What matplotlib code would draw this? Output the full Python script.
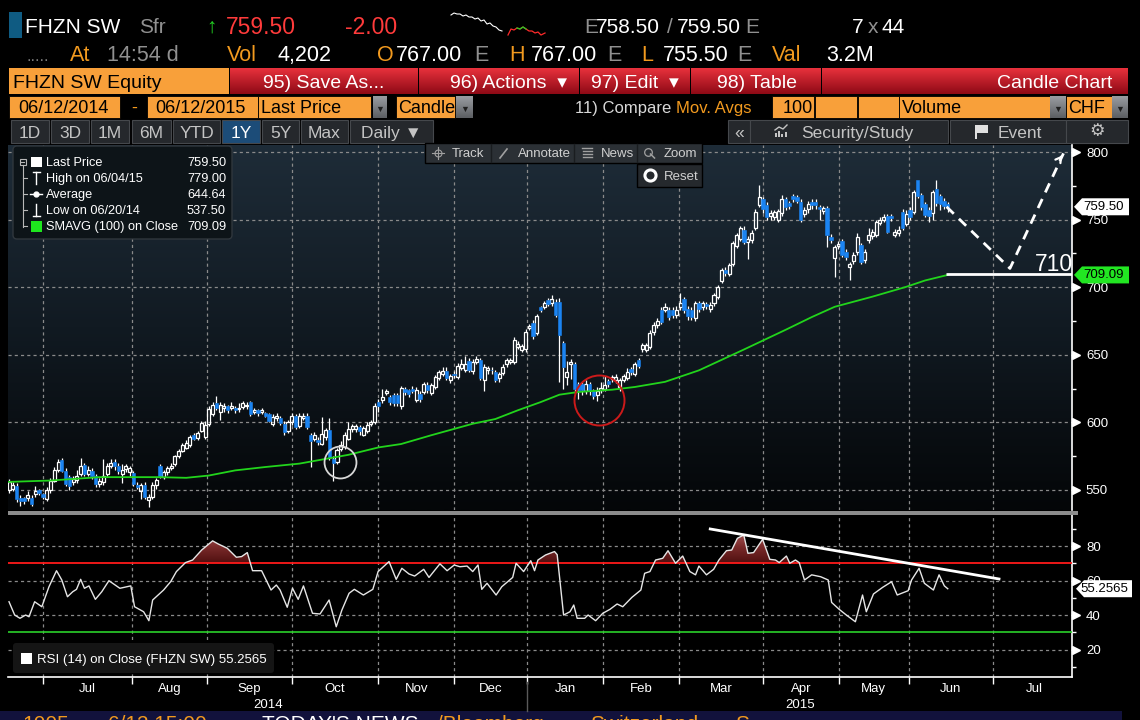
import numpy as np
import matplotlib
matplotlib.use("Agg")
import matplotlib.pyplot as plt
from matplotlib.patches import Rectangle, FancyBboxPatch, Polygon, PathPatch
from matplotlib.path import Path
from matplotlib.colors import LinearSegmentedColormap
import matplotlib.transforms as mtrans

SANS = ["Liberation Sans", "DejaVu Sans"]
plt.rcParams["font.family"] = SANS

# ------------------------------------------------------------------ data
opens = [550,551,553,544,544,544,544,547,550,547,
         543,550,557,565,572,564,559.5,556,557.5,562,
         568.5,562,564,560.5,554.5,556,562,568,571,568,
         562,565.5,563,562.5,554,549,554,542.5,544.5,553.5,
         567.5,559.5,563,566.5,569.5,575.5,579,581,583,590.5,
         588.5,594,589,598.5,606,614.5,608,610.5,612,611,
         610.5,610,611.5,612,615,607.5,609,607.5,607,606,
         599,603,603.5,599,594,600,605,597.5,603.5,605,
         590.5,588,587,584,589,594.5,573,570.5,580.5,581.5,
         588,595,595,596.5,591,594,599,600.5,615,616.5,
         621.5,619,620,620,612,624.5,624,625,616.5,621,
         622.5,628,622,626,632.5,636,638,631,635.5,633.5,
         640.5,639,645.5,638,644.5,646,631.5,638.5,639,637.5,
         632.5,636.5,643.5,644.5,644.5,656,653.5,654.5,670,673.5,
         666,685,685.5,690.5,688,689,689,658.5,633.5,643.5,
         643,628.5,628.5,623.5,628.5,623,620,624,625,630.5,
         632,631.5,626,631.5,632.5,639.5,635.5,646,654.5,653.5,
         655.5,667,672,683.5,683.5,683,683,679.5,685,691,
         684,683.5,677,688,685.5,687.5,684,688,692.5,704.5,
         713,710,717.5,730.5,736,742.5,733.5,735,744,761,
         765,761,752.5,752,750,755,765.5,762,767.5,766.5,
         763,754.5,757.5,763,763,759,756.5,758.5,737.5,721.5,
         730.5,734.5,726,715,719.5,726,731,720,735,738,
         738.5,747.5,749.5,752.5,752.5,738.5,740,756,746.5,757,
         756,779,768,761.5,757,755,772.5,767.5,764,761.5]
closes = [556,554,543,542,542,546,540,549,548,545,
          550,557,565,570.5,564,554.5,553,558,560,568,
          562,565,560.5,554.5,557,560.5,568,570,567.5,564,
          565,567.5,566,554.5,552.5,553.5,544.5,544.5,554,557.5,
          560.5,563,566.5,568,575,579,583,585,589,588,
          592,599.5,598,610,613,611,613,612,609,612,
          609,611,614.5,613,606.5,609,607,609,605,601,
          604,605,599.5,593,600,605,596.5,605,605,596.5,
          586.5,591,585.5,591.5,594.5,574,570,579.5,583,591,
          595,597,597,593.5,595.5,598,600,612.5,612.5,619,
          623.5,615,614,614,625.5,622.5,621,623.5,624,617,
          628.5,624,627.5,633.5,637.5,638,633,634,635,642,
          643,643,639,644.5,647,633,641,640,638.5,631.5,
          635.5,641,646,646.5,661,658,656.5,667,671,664,
          678.5,683.5,688,687.5,691,679.5,664.5,641,637.5,645,
          625,624,624,628.5,623.5,619.5,623,625.5,627.5,628.5,
          633.5,633.5,631,634,637.5,637.5,643,642,657,657,
          666,672,675,674.5,685.5,678,679.5,683,688.5,683,
          678.5,678,688,684,688,686,686.5,694,700.5,712.5,
          710.5,716.5,732.5,738.5,743.5,733.5,736,740,756,766.5,
          757.5,752,755,755.5,756.5,765.5,759.5,760,765.5,764,
          750,757,761.5,761,761,757.5,758.5,738.5,735,729.5,
          732,723.5,722,717,723.5,737.5,719,726,738.5,741,
          748.5,749.5,752,741,751.5,741,742.5,743.5,754.5,752,
          770.5,767.5,759,753.5,752.5,770.5,762,761.5,760,759.5]
highs = [558,556,555,546,545,549,546,553,551,548,
         552,559,567,573,574,566,561,560,565,574,
         570,568,566,562,559,573,570,573,573,570,
         569,569,568,564,556,555,556,547,556,559,
         569,565,568,570,576,580,585,587,591,592,
         594,601,601,612,615,619.5,615,614,613,615,
         612,614,616,615,616,611,610,611,608,607,
         606,607,605,601,602,607,606,607,607,607,
         592,593,589,604,596,603,575,581,586,593,
         600,599,599,598,597,600,602,614,617,625,
         625,620,622,622,627,626,625,627,626,623,
         630,630,629,635,639,641,641,636,638,644,
         647,649,648,647,649,648,643,642,641,639,
         637,643,648,648,663,660,658,669,673,676,
         680,686,690,692,694,691,692,660,645.5,647,
         645,630,630,631,630,625,626,630,634,632,
         635,636,633,636,640,641,645,648,659,659,
         668,674,677,685,688,685,685,686,696,693,
         686,685,690,690,690,689,689,696,702,714,
         715,718,734,740,745,745,738,742,758,775.5,
         767,763,757,757,758,768,767,764,769,768,
         765,759,764,765,765,761,760,760,739,731,
         734,736,728,719,726,740,733,728,744,743,
         750,752,754,754,754,743,745,758,757,759,
         772,779,770,763,759,772,779,769,766,763]
lows = [548,549,541,538.5,540,542,538,545,546,543,
        542,548,556,563,563,553,550,554,555,560,
        560,560,558,552,552,554,560,566,565,562,
        555,563,560,553,551,543,543,537.5,543,551,
        559,558,561,565,568,574,578,580,582,587,
        587,593,588,597,605,609,602,608,607,609,
        607,608,610,610,605,606,605,606,604,600,
        597,601,598,591,592,598,595,596,602,595,
        567,586,583,583,587,572,557,569,579,580,
        587,593,593,591,590,592,597,599,608,614,
        620,613,612,612,610,620,619,622,615,615,
        621,622,620,625,631,634,631,629,633,632,
        639,637,637,636,643,631,623,636,636,630,
        630,635,641,643,643,654,652,652,668,662,
        665,682,684,686,686,678,630,625,628,632,
        622,617,620,621,620,617,616,622,623,626,
        630,629,623,630,631,635,634,640,652,652,
        654,665,670,673,682,676,677,677,683,681,
        676,676,675,682,683,684,682,686,691,703,
        708,708,716,729,734,732,721,733,742,759,
        755,750,750,750,748,753,757,758,763,762,
        748,752,755,758,758,750,754,730,733,707.5,
        728,722,720,705,717,724,717,718,733,736,
        737,746,748,740,749,737,738,742,745,750,
        754,766,757,752,748,750,760,757,758,755.5]

sma_idx = [0, 11, 24, 40, 47, 53, 60, 68, 77, 83, 90, 98, 104, 112, 123, 129,
           135, 141, 146, 151, 160, 166, 174, 183, 195, 206, 213, 219, 229, 238, 243, 249]
sma_val = [556, 557, 559.5, 559.5, 559, 560.7, 564.5, 567, 569.5, 572.5, 576, 581.5,
           584, 590.5, 599, 602.5, 609, 615, 620.5, 622.5, 624.2, 626.2, 630, 638.5,
           654, 668.5, 678, 685.5, 693, 700.3, 705, 709.09]

rsi_idx = [0.0,1.5,2.9,4.4,5.3,6.8,8.7,10.6,12.6,14.0,15.5,16.9,17.9,19.0,20.0,21.2,22.9,
           24.6,26.5,29.4,32.3,33.3,35.7,37.1,38.1,41.0,42.9,44.4,46.8,48.7,51.1,54.0,55.5,
           57.9,60.3,61.7,63.2,64.6,67.0,69.5,70.9,71.9,73.8,75.2,76.7,78.1,80.5,82.5,84.9,
           86.8,88.3,90.2,91.6,94.0,96.5,97.9,100.8,102.7,104.2,106.1,107.6,110.0,111.4,
           114.3,116.2,118.1,119.6,121.5,123.0,124.4,125.4,126.8,129.2,130.7,133.6,134.5,
           136.5,138.4,139.4,140.3,142.3,144.7,145.4,147.1,148.8,149.8,150.7,152.7,153.6,
           155.6,157.5,159.4,161.3,162.8,165.2,167.6,168.6,170.0,171.5,173.4,174.8,176.8,
           178.7,180.6,182.1,183.0,185.0,186.9,188.3,190.3,191.7,193.2,194.9,196.0,197.5,
           199.9,201.8,203.3,204.3,206.2,207.1,208.6,209.6,211.0,212.9,215.3,217.3,218.2,
           220.2,222.1,224.5,226.4,227.4,229.3,231.7,234.1,235.6,238.5,239.4,241.4,242.8,
           245.2,246.7,248.1,249.0]
rsi_val = [47.7,40,38.1,40,39,47.7,44.8,56.4,65.7,60.3,50.6,53.5,54.9,60.7,55.5,56.9,49.1,
           53.5,59.9,55.5,56.9,44.8,41.9,36.7,48.7,54.5,59.4,65.2,70.4,71.9,77.7,83,81.2,
           78.7,73.5,73.9,76.2,65.7,65.7,54.5,57.4,54.5,44.5,55.5,49.1,56.9,41,40.6,48.7,
           33.2,42.9,52.6,54.9,51.6,54.9,65.2,71,60.7,67.1,63.8,62.6,66.5,61.8,
           69.7,65.7,69,68,68.4,65.2,69,54.9,58.4,51.6,56.4,61.8,70,
           65.2,71.5,65.7,71.9,74.8,76.8,75,40,41.9,45.8,38.1,38.1,40,
           36.7,41,43.3,46.4,44.8,50.2,54.5,64.2,65.2,71.9,72.9,77.3,70,
           74.2,65.2,63.3,68.4,63.3,66.5,71.9,77.3,77.7,84.5,86.4,75.8,76.2,
           83.9,72.3,71.9,70.4,74.2,70,71.9,70.4,60.3,63.3,62.2,60.3,47.3,
           43.3,40,36.1,51.6,41.9,52.2,56,59.3,51.6,54.1,60.3,67.1,58.4,
           54.5,63.3,56.9,55.2565]

month_starts = [9.1, 32.5, 52.6, 75.0, 98.0, 118.0, 137.5, 157.6, 177.8, 200.1, 220.2, 238.6, 260.9]
month_names = ["Jul", "Aug", "Sep", "Oct", "Nov", "Dec", "Jan", "Feb", "Mar", "Apr", "May", "Jun", "Jul"]
year_names = ["2014", "2015"]
price_ticks = [550, 600, 650, 700, 750, 800]
price_minor = [575, 625, 675, 725, 775]
rsi_ticks = [20, 40, 60, 80]
rsi_minor = [10, 30, 50, 70, 90]
rsi_overbought, rsi_oversold = 70, 30
last_price, sma_last, rsi_last = 759.50, 709.09, 55.2565
legend_rows = [("Last Price", "759.50"), ("High on 06/04/15", "779.00"),
               ("Average", "644.64"), ("Low on 06/20/14", "537.50"),
               ("SMAVG (100) on Close", "709.09")]

# analyst annotations
proj_x = [248.7, 265.5, 279.7]
proj_y = [759.5, 713.9, 799.0]
support_level, support_x0 = 710, 248.5
rsi_trend_x = [186.0, 262.6]
rsi_trend_y = [89.9, 60.9]
white_circle = (87.8, 570.7)
red_circle = (156.5, 616.6)

# intraday sparkline in the header
spark_w_x = [451,454,457,460,463,466,469,472,475,478,481,484,487,490,493,496,499,502]
spark_w_y = [15,13,14,14,16,15,17,17,19,18,21,20,24,23,26,27,30,31]
spark_r_x = [508,511,514,517,520,523,526,529,532,535,538,541,545]
spark_r_y = [35,29,30,28,29,27,29,31,31,33,32,35,33]

# ------------------------------------------------------------------ figure
W, H = 1140, 720
fig = plt.figure(figsize=(W / 100, H / 100), dpi=100, facecolor="black")

cv = fig.add_axes([0, 0, 1, 1])
cv.set_zorder(0)
cv.axis("off")
cv.set_facecolor("black")

ORANGE = "#f8a03a"
ORTXT = "#f29a1f"
GRAY = "#909090"


def rect(ax, x0, y0, x1, y1, fc, ec="none", lw=0, z=2):
    ax.add_patch(Rectangle((x0, y0), x1 - x0, y1 - y0, fc=fc, ec=ec, lw=lw, zorder=z))


def grad_rect(ax, x0, y0, x1, y1, ctop, cbot, z=1):
    cm = LinearSegmentedColormap.from_list("g", [ctop, cbot])
    ax.imshow(np.linspace(0, 1, 64)[:, None], extent=(x0, x1, y1, y0), cmap=cm,
              aspect="auto", origin="upper", zorder=z, interpolation="bilinear")


def txt(ax, x, y, s, color="white", size=15, ha="left", va="baseline", z=5, **kw):
    ax.text(x, y, s, color=color, fontsize=size, ha=ha, va=va, zorder=z, **kw)


# ---------------- header row 1
rect(cv, 9, 12, 22, 38, "#0f5b82")
txt(cv, 25, 33, "FHZN SW", size=15)
txt(cv, 139, 33, "Sfr", GRAY, 15)
txt(cv, 206, 33, "↑", "#22d022", 15)
txt(cv, 226, 33.5, "759.50", "#ff3b3b", 16.5)
txt(cv, 345, 33.5, "-2.00", "#ff3b3b", 16.5)
cv.plot(spark_w_x, spark_w_y, color="white", lw=0.8, zorder=5)
cv.plot(spark_r_x, spark_r_y, color="#ff2a2a", lw=0.9, zorder=5)
cv.plot(spark_r_x[3:7], spark_r_y[3:7], color="#22d022", lw=0.9, zorder=6)
txt(cv, 584, 33, "E", GRAY)
txt(cv, 596, 33, "758.50")
txt(cv, 667, 33, "/", GRAY)
txt(cv, 677, 33, "759.50")
txt(cv, 745, 33, "E", GRAY)
txt(cv, 852, 33, "7")
txt(cv, 868, 33, "x", GRAY)
txt(cv, 882, 33, "44")

# ---------------- header row 2
txt(cv, 27, 61, ".....", "#7a7a7a", 12)
R2 = 15.5
txt(cv, 70, 61, "At", ORTXT, R2)
txt(cv, 107, 61, "14:54 d", GRAY, R2)
txt(cv, 227, 61, "Vol", ORTXT, R2)
txt(cv, 278, 61, "4,202", "white", R2)
txt(cv, 377, 61, "O", ORTXT, R2)
txt(cv, 396, 61, "767.00", "white", R2)
txt(cv, 474, 61, "E", GRAY, R2)
txt(cv, 509, 61, "H", ORTXT, R2)
txt(cv, 531, 61, "767.00", "white", R2)
txt(cv, 607, 61, "E", GRAY, R2)
txt(cv, 641, 61, "L", ORTXT, R2)
txt(cv, 663, 61, "755.50", "white", R2)
txt(cv, 737, 61, "E", GRAY, R2)
txt(cv, 772, 61, "Val", ORTXT, R2)
txt(cv, 826, 61, "3.2M", "white", R2)

# ---------------- header row 3 (orange + red buttons)
rect(cv, 9, 68, 229, 94, ORANGE)
txt(cv, 13, 88, "FHZN SW Equity", "black", 14)
buttons = [(230, 418, "95) Save As...", 324, "center"),
           (419, 579, "96) Actions  ▾", 508, "center"),
           (580, 690, "97) Edit  ▾", 635, "center"),
           (691, 821, "98) Table", 757, "center"),
           (822, 1128, "Candle Chart", 1112, "right")]
for x0, x1, label, tx, ha in buttons:
    grad_rect(cv, x0, 68, x1, 94, "#e8313c", "#8e0a16", z=1)
    txt(cv, tx, 88, label, "white", 14, ha=ha)

# ---------------- header row 4
for x0, x1 in [(9, 120), (147, 258), (258, 371), (396, 455), (772, 814), (815, 857),
               (858, 899), (899, 1050), (1066, 1112)]:
    rect(cv, x0, 96, x1, 118, ORANGE, ec="black", lw=0.6)
for x0, x1 in [(373, 387), (456, 473), (1050, 1066), (1112, 1128)]:
    grad_rect(cv, x0, 96, x1, 118, "#9a9da2", "#5c5f63", z=2)
    txt(cv, (x0 + x1) / 2, 111.5, "▼", "#202020", 6.5, ha="center")
txt(cv, 18, 113, "06/12/2014", "black", 13)
txt(cv, 131, 113, "-", ORTXT, 13)
txt(cv, 155, 113, "06/12/2015", "black", 13)
txt(cv, 261, 113, "Last Price", "black", 13)
txt(cv, 398, 113, "Candle", "black", 13)
txt(cv, 575, 113, "11) Compare", "#d8d8d8", 12)
txt(cv, 676, 113, "Mov. Avgs", ORTXT, 12)
txt(cv, 783, 113, "100", "black", 13)
txt(cv, 902, 113, "Volume", "black", 13)
txt(cv, 1068, 113, "CHF", "black", 13)

# ---------------- header row 5 (tabs)
tabs = [(11, 49, "1D"), (51, 89, "3D"), (91, 129, "1M"), (132, 171, "6M"), (173, 220, "YTD"),
        (222, 260, "1Y"), (262, 299, "5Y"), (301, 348, "Max"), (350, 433, "Daily ▼")]
for x0, x1, lab in tabs:
    sel = lab == "1Y"
    rect(cv, x0, 120, x1, 143, "#1c4c78" if sel else "#25282c", ec="#45484c", lw=0.8)
    txt(cv, (x0 + x1) / 2, 138, lab, "white" if sel else "#c4c4c4", 12.5, ha="center")
for x0, x1 in [(728, 750), (750, 948), (950, 1066), (1066, 1128)]:
    rect(cv, x0, 120, x1, 143, "#25282c", ec="#45484c", lw=0.8)
txt(cv, 739, 138, "«", "#c4c4c4", 12.5, ha="center")
for i, hgt in enumerate([4, 6, 3, 5]):
    rect(cv, 775 + i * 3.2, 137 - hgt, 777 + i * 3.2, 137, "#c4c4c4", z=5)
cv.plot([775, 779, 783, 787], [130, 127, 129, 125], color="#c4c4c4", lw=1, zorder=5)
txt(cv, 801, 138, "Security/Study", "#c4c4c4", 12.5)
cv.add_patch(Polygon([(975, 125), (975, 139), (976.5, 139), (976.5, 133), (988, 133), (988, 125)],
                     closed=True, fc="#e0e0e0", ec="none", zorder=5))
txt(cv, 998, 138, "Event", "#c4c4c4", 12.5)
txt(cv, 1097, 131.5, "⚙", "#c4c4c4", 12.5, ha="center", va="center", family=["DejaVu Sans"])

# ---------------- bottom news strip (only the top of its text shows)
rect(cv, 0, 711, 1122, 720, "#12123c")
for xx, s, col in [(22, "1005", ORTXT), (108, "6/12 15:00", ORTXT), (262, "TODAY'S NEWS", "white"),
                   (437, "/Bloomberg", ORTXT), (590, "Switzerland", ORTXT), (735, "S", ORTXT)]:
    txt(cv, xx, 714.5, s, col, 15, va="top", clip_on=True)

cv.set_xlim(0, W)
cv.set_ylim(H, 0)

# ------------------------------------------------------------------ price panel
XL = (-0.27, 281.96)
YL = (535.2, 805.2)
RL = (4.06, 98.0)
pax = fig.add_axes([8 / W, 1 - 510 / H, 1064 / W, 365 / H])
rax = fig.add_axes([8 / W, 1 - 677 / H, 1064 / W, 162 / H])
for a in (pax, rax):
    a.set_zorder(2)

pax.set_facecolor("none")
bgcm = LinearSegmentedColormap.from_list("bg", ["#1e2c38", "#111a22", "#040608"])
pax.imshow(np.linspace(0, 1, 256)[:, None], extent=(XL[0], XL[1], YL[0], YL[1]), cmap=bgcm,
           aspect="auto", origin="upper", zorder=0, interpolation="bilinear")

o = np.array(opens, float)
c = np.array(closes, float)
hi = np.array(highs, float)
lo = np.array(lows, float)
x = np.arange(len(c))
top = np.maximum(o, c)
bot = np.minimum(o, c)
up = c >= o

pax.vlines(x, top, hi, color="white", lw=0.9, zorder=3)
pax.vlines(x, lo, bot, color="white", lw=0.9, zorder=3)
pax.bar(x[up], np.maximum(top - bot, 0.4)[up], bottom=bot[up], width=0.8,
        facecolor="none", edgecolor="white", lw=0.9, zorder=4)
pax.bar(x[~up], np.maximum(top - bot, 0.6)[~up], bottom=bot[~up], width=0.9,
        color="#1b84f2", edgecolor="#1b84f2", lw=0.4, zorder=4)

pax.plot(sma_idx, sma_val, color="#22d41c", lw=1.3, zorder=5)

# annotations
pax.plot(proj_x, proj_y, color="white", lw=2, dashes=(3.6, 2.6), zorder=6)
pax.annotate("", xy=(proj_x[2], proj_y[2]), xytext=(proj_x[2] - 1.0, proj_y[2] - 4.0),
             arrowprops=dict(arrowstyle="->,head_length=0.35,head_width=0.22", color="white", lw=1.6),
             zorder=6)
pax.hlines(support_level, support_x0, XL[1], color="white", lw=2, zorder=6)
pax.text(272.0, support_level + 2.2, "710", color="white", fontsize=16.5, ha="left",
         va="baseline", zorder=7)
pax.plot(*white_circle, marker="o", ms=23, mfc="none", mec="#d8d8d8", mew=1.3, zorder=7)
pax.plot(*red_circle, marker="o", ms=36, mfc="none", mec="#cc1a1a", mew=1.4, zorder=7)

pax.set_xlim(*XL)
pax.set_ylim(*YL)
pax.set_xticks(month_starts)
pax.set_xticklabels([])
pax.tick_params(axis="x", length=0)
pax.set_yticks(price_ticks)
pax.set_yticks(price_minor, minor=True)
pax.yaxis.tick_right()
pax.tick_params(axis="y", which="major", length=0, pad=10, labelsize=9.5, labelcolor="white")
pax.tick_params(axis="y", which="minor", length=3, width=1, color="white", direction="out")
pax.grid(True, which="major", color="#8a8a8a", lw=0.9, ls=(0, (2.5, 2.5)), zorder=1)
pax.set_axisbelow(True)
for sp in ("left", "top", "bottom"):
    pax.spines[sp].set_visible(False)
pax.spines["right"].set_color("white")
pax.spines["right"].set_linewidth(1.2)

# ------------------------------------------------------------------ RSI panel
rax.set_facecolor("black")
rx = np.array(rsi_idx)
ry = np.array(rsi_val)
coll = rax.fill_between(rx, ry, rsi_overbought, where=ry > rsi_overbought, interpolate=True,
                        color="none")
paths = coll.get_paths()
if paths:
    cpath = Path.make_compound_path(*paths)
    clip = PathPatch(cpath, transform=rax.transData, fc="none", ec="none")
    rax.add_patch(clip)
    redcm = LinearSegmentedColormap.from_list("rf", ["#a85a5a", "#7a2a2a", "#501010"])
    im = rax.imshow(np.linspace(0, 1, 128)[:, None], extent=(XL[0], XL[1], 70, 88), cmap=redcm,
                    aspect="auto", origin="upper", zorder=2, interpolation="bilinear")
    im.set_clip_path(clip)
coll.remove()
rax.axhline(rsi_overbought, color="#ff1a1a", lw=1.3, zorder=3)
rax.axhline(rsi_oversold, color="#2bd12b", lw=1.2, zorder=3)
rax.plot(rx, ry, color="#e6e6e6", lw=1.0, zorder=4)
rax.plot(rsi_trend_x, rsi_trend_y, color="white", lw=2, zorder=5)

label_pos = [(a + b) / 2 for a, b in zip(month_starts, month_starts[1:] + [2 * month_starts[-1] - month_starts[-2]])]
rax.set_xlim(*XL)
rax.set_ylim(*RL)
rax.set_xticks(month_starts)
rax.set_xticklabels([])
rax.set_xticks(label_pos, minor=True)
rax.set_xticklabels(month_names, minor=True)
rax.tick_params(axis="x", which="major", length=5, width=1, color="white", direction="out")
rax.tick_params(axis="x", which="minor", length=0, pad=4, labelsize=9.5, labelcolor="white")
rax.set_yticks(rsi_ticks)
rax.set_yticks(rsi_minor, minor=True)
rax.yaxis.tick_right()
rax.tick_params(axis="y", which="major", length=0, pad=10, labelsize=9.5, labelcolor="white")
rax.tick_params(axis="y", which="minor", length=3, width=1, color="white", direction="out")
rax.grid(True, which="major", color="#8a8a8a", lw=0.9, ls=(0, (2.5, 2.5)), zorder=1)
rax.set_axisbelow(True)
for sp in ("left", "top"):
    rax.spines[sp].set_visible(False)
for sp in ("right", "bottom"):
    rax.spines[sp].set_color("white")
    rax.spines[sp].set_linewidth(1.2)

# arrow markers at labelled ticks
for a, ticks in ((pax, price_ticks), (rax, rsi_ticks)):
    tr = mtrans.offset_copy(mtrans.blended_transform_factory(a.transAxes, a.transData),
                            fig=fig, x=4, y=0, units="dots")
    a.plot([1.0] * len(ticks), ticks, ls="none", marker=">", ms=5.5, color="white",
           transform=tr, clip_on=False, zorder=6)

# ------------------------------------------------------------------ overlay
ov = fig.add_axes([0, 0, 1, 1])
ov.set_zorder(10)
ov.patch.set_visible(False)
ov.axis("off")


def ypix(ax, v):
    return H - ax.transData.transform((0, v))[1]


def xpix(ax, v):
    return ax.transData.transform((v, 0))[0]


# separator between panels
rect(ov, 8, 510.5, 1078, 515, "#8c8c8c", z=20)

# years and year separator
jan_x = xpix(rax, month_starts[6])
ov.plot([jan_x, jan_x], [682, 711], color="#5a5a5a", lw=1, zorder=20)
txt(ov, (8 + jan_x) / 2, 708, year_names[0], "white", 9.5, ha="center")
txt(ov, (jan_x + 1072) / 2, 708, year_names[1], "white", 9.5, ha="center")

# legend (top-left)
ov.add_patch(FancyBboxPatch((13, 146), 219, 93, boxstyle="round,pad=0,rounding_size=4",
                            fc="#0d1418", ec="#30373d", lw=1, zorder=20))
LG = "#b8b8b8"
ov.add_patch(Rectangle((19.5, 158.5), 6, 6, fc="none", ec=LG, lw=0.8, zorder=21))
ov.plot([20.8, 24.2], [161.5, 161.5], color=LG, lw=0.8, zorder=21)
ov.plot([22.5, 22.5], [164.5, 226.5], color=LG, lw=0.8, zorder=21)
for yy in (178, 194, 210, 226):
    ov.plot([22.5, 26.5], [yy, yy], color=LG, lw=0.8, zorder=21)
rect(ov, 30.5, 156.5, 41.5, 167, "white", z=21)
ov.plot([36, 36], [172, 184], color="white", lw=1, zorder=21)
ov.plot([32.5, 39.5], [172, 172], color="white", lw=1, zorder=21)
ov.plot([30, 42], [194, 194], color="white", lw=1, zorder=21)
ov.plot([36], [194], marker="o", ms=3.5, color="white", zorder=22)
ov.plot([36, 36], [204, 216], color="white", lw=1, zorder=21)
ov.plot([32.5, 39.5], [216, 216], color="white", lw=1, zorder=21)
rect(ov, 30.5, 220.5, 41.5, 231.5, "#1ee61e", z=21)
for i, (lab, val) in enumerate(legend_rows):
    yy = 166 + 16 * i
    txt(ov, 46, yy, lab, "white", 9.2, z=22)
    txt(ov, 226, yy, val, "white", 9.2, ha="right", z=22)

# toolbar
ov.add_patch(Rectangle((425, 143), 277, 20, fc="#2b3035", ec="black", lw=1, zorder=20))
for sx in (491, 574, 637):
    ov.plot([sx, sx], [144, 162], color="#1a1d20", lw=1, zorder=21)
TB = "#d0d0d0"
for tx, lab in ((452, "Track"), (518, "Annotate"), (601, "News"), (664, "Zoom")):
    txt(ov, tx, 157, lab, TB, 9.5, z=22)
ov.plot([438], [153], marker="o", ms=5, mfc="none", mec="#a0a0a0", mew=0.8, zorder=22)
ov.plot([432, 444], [153, 153], color="#a0a0a0", lw=0.8, zorder=22)
ov.plot([438, 438], [147, 159], color="#a0a0a0", lw=0.8, zorder=22)
ov.plot([500, 507], [158, 149], color="#a0a0a0", lw=1.2, zorder=22)
for k, yy in enumerate((148, 151, 154, 157)):
    ov.plot([583 if k else 582, 592], [yy, yy], color="#a0a0a0", lw=1, zorder=22)
ov.plot([648], [151.5], marker="o", ms=5.5, mfc="none", mec="#a0a0a0", mew=0.9, zorder=22)
ov.plot([650.5, 654.5], [154, 158], color="#a0a0a0", lw=1.1, zorder=22)
ov.add_patch(Rectangle((637, 164), 65, 22.5, fc="#25292d", ec="black", lw=1, zorder=20))
ov.plot([650], [175], marker="o", ms=8, mfc="#25292d", mec="white", mew=2.2, zorder=22)
txt(ov, 664, 180.5, "Reset", TB, 9.5, z=22)


# right-axis value tags
def tag(yp, text, fc, x0=1074, x1=1129, tx=1083):
    ov.add_patch(Polygon([(x0, yp), (x0 + 8, yp - 8.5), (x1, yp - 8.5), (x1, yp + 8.5), (x0 + 8, yp + 8.5)],
                         closed=True, fc=fc, ec="none", zorder=25))
    txt(ov, tx, yp + 0.5, text, "black", 9.5, va="center", z=26)


tag(ypix(pax, last_price), f"{last_price:.2f}", "white")
tag(ypix(pax, sma_last), f"{sma_last:.2f}", "#22e622")
tag(ypix(rax, rsi_last), f"{rsi_last:.4f}", "white", x0=1076, x1=1132, tx=1080)

# RSI legend box
ov.add_patch(FancyBboxPatch((13, 643), 261, 30, boxstyle="round,pad=0,rounding_size=3",
                            fc="#151515", ec="none", zorder=20))
rect(ov, 21, 653, 32, 664, "white", z=21)
txt(ov, 37, 663.5, f"RSI (14) on Close (FHZN SW) {rsi_last:.4f}", "white", 9.5, z=22)

ov.set_xlim(0, W)
ov.set_ylim(H, 0)

fig.savefig("out.png", dpi=100, facecolor="black")
